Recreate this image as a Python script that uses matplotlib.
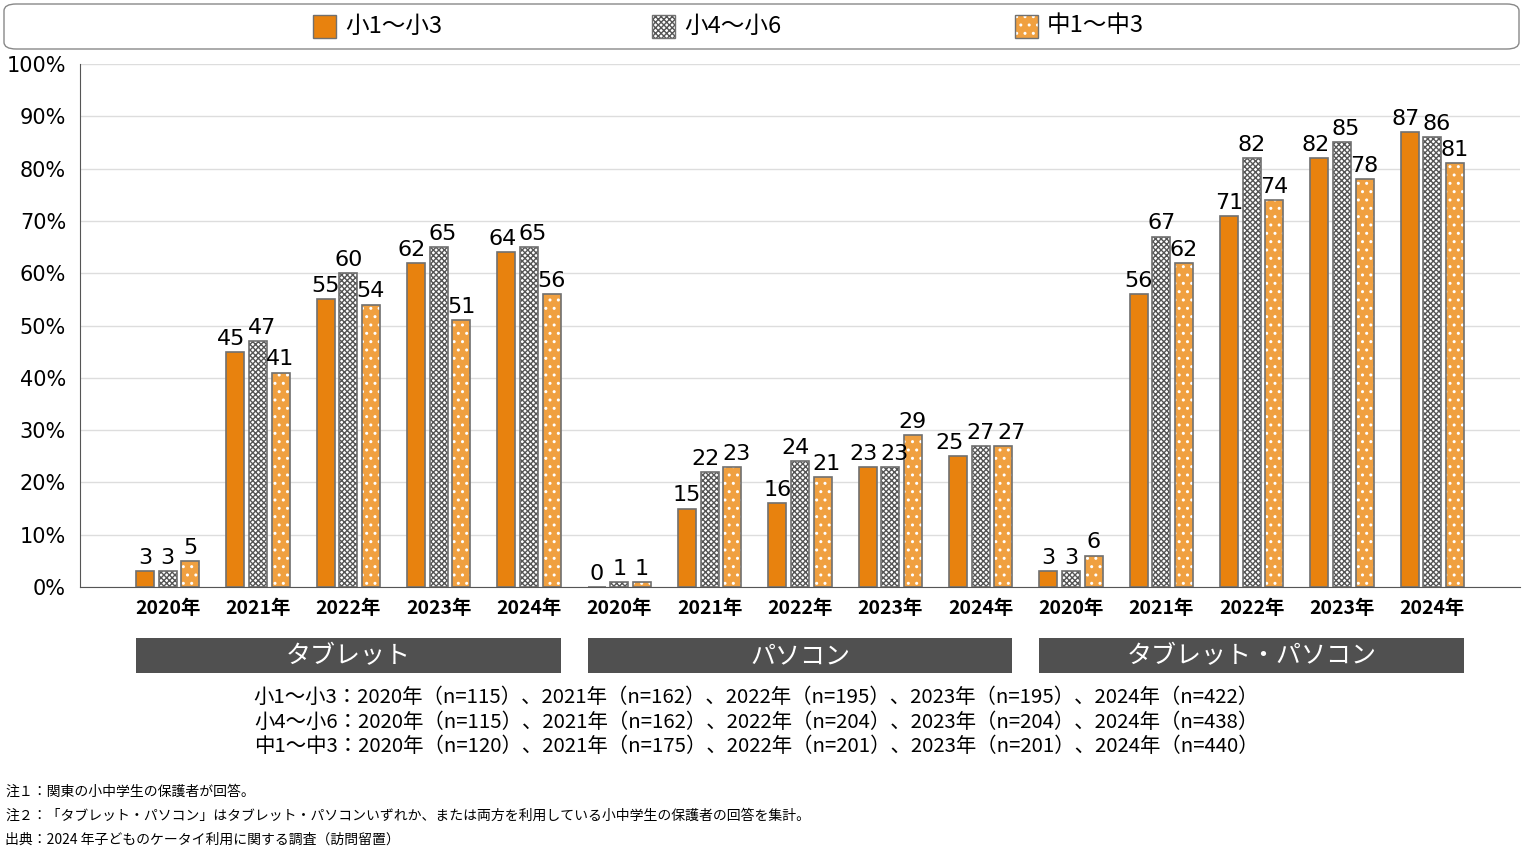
import matplotlib
matplotlib.use("Agg")
import matplotlib.pyplot as plt
from matplotlib.patches import Rectangle, FancyBboxPatch
from matplotlib.transforms import blended_transform_factory
import numpy as np

plt.rcParams['font.family'] = ['Noto Sans CJK JP', 'DejaVu Sans']

# data
groups = ["タブレット", "パソコン", "タブレット・パソコン"]
years = ["2020年", "2021年", "2022年", "2023年", "2024年"]
series_names = ["小1〜小3", "小4〜小6", "中1〜中3"]
low_grade = [3, 45, 55, 62, 64, 0, 15, 16, 23, 25, 3, 56, 71, 82, 87]
mid_grade = [3, 47, 60, 65, 65, 1, 22, 24, 23, 27, 3, 67, 82, 85, 86]
junior_high = [5, 41, 54, 51, 56, 1, 23, 21, 29, 27, 6, 62, 74, 78, 81]
sample_lines = [
    "小1〜小3：2020年（n=115）、2021年（n=162）、2022年（n=195）、2023年（n=195）、2024年（n=422）",
    "小4〜小6：2020年（n=115）、2021年（n=162）、2022年（n=204）、2023年（n=204）、2024年（n=438）",
    "中1〜中3：2020年（n=120）、2021年（n=175）、2022年（n=201）、2023年（n=201）、2024年（n=440）",
]
notes = [
    "注１：関東の小中学生の保護者が回答。",
    "注２：「タブレット・パソコン」はタブレット・パソコンいずれか、または両方を利用している小中学生の保護者の回答を集計。",
    "出典：2024 年子どものケータイ利用に関する調査（訪問留置）",
]

ORANGE = "#E8820E"
LIGHT_ORANGE = "#F0A040"
EDGE = "#707070"

W, H = 1524, 851
fig = plt.figure(figsize=(W / 100, H / 100), dpi=100)
ax = fig.add_axes([80 / W, 1 - 587 / H, 1440 / W, (587 - 64) / H])

x = np.arange(len(low_grade))
bw = 0.2
off = 0.25

styles = [
    dict(face=ORANGE, hatch=None, hcol=None),
    dict(face="white", hatch="xxxxxx", hcol="#555555"),
    dict(face=LIGHT_ORANGE, hatch="..", hcol="white"),
]
all_vals = [low_grade, mid_grade, junior_high]

for k, (vals, st) in enumerate(zip(all_vals, styles)):
    xs = x + (k - 1) * off
    if st["hatch"]:
        ax.bar(xs, vals, bw, color=st["face"], edgecolor=st["hcol"],
               hatch=st["hatch"], linewidth=0, zorder=2)
        ax.bar(xs, vals, bw, fill=False, edgecolor=EDGE, linewidth=1.2, zorder=3)
    else:
        ax.bar(xs, vals, bw, color=st["face"], edgecolor=EDGE, linewidth=1.2, zorder=3)

# value labels, spread sideways where neighbours would collide
digit_w = 0.17   # approx width of one digit in x units
label_h = 4.0    # approx height in %
for i in range(len(x)):
    vals = [s[i] for s in all_vals]
    pos = [x[i] + (k - 1) * off for k in range(3)]
    widths = [digit_w * len(str(v)) for v in vals]
    for _ in range(5):
        for k in range(2):
            need = (widths[k] + widths[k + 1]) / 2
            if abs(vals[k] - vals[k + 1]) < label_h and pos[k + 1] - pos[k] < need:
                push = (need - (pos[k + 1] - pos[k])) / 2
                pos[k] -= push
                pos[k + 1] += push
    for p, v in zip(pos, vals):
        ax.text(p, v + 0.6, str(v), ha="center", va="bottom", fontsize=16,
                family="DejaVu Sans", zorder=4)

ax.set_xlim(-0.97, 14.97)
ax.set_ylim(0, 100)
ax.set_yticks(range(0, 101, 10))
ax.set_yticklabels([f"{t}%" for t in range(0, 101, 10)], fontsize=15, family="DejaVu Sans")
ax.set_xticks(x)
ax.set_xticklabels(years * 3, fontsize=14, fontweight="bold")
ax.tick_params(axis="x", length=0, pad=9)
ax.tick_params(axis="y", length=0, pad=10)
ax.yaxis.grid(True, color="#DDDDDD", linewidth=1, zorder=0)
ax.set_axisbelow(True)
for s in ["top", "right"]:
    ax.spines[s].set_visible(False)
ax.spines["left"].set_color("#555555")
ax.spines["bottom"].set_color("#555555")

# group label boxes
trans = blended_transform_factory(ax.transData, fig.transFigure)
for g, name in enumerate(groups):
    left = g * 5 - 0.35
    right = g * 5 + 4 + 0.35
    ax.add_patch(Rectangle((left, 1 - 673 / H), right - left, 35 / H, transform=trans,
                           facecolor="#505050", edgecolor="none", clip_on=False))
    ax.text((left + right) / 2, 1 - 656 / H, name, transform=trans, ha="center",
            va="center", color="white", fontsize=18)

# legend box
fig.patches.append(FancyBboxPatch((4 / W, 1 - 49 / H), 1515 / W, 45 / H,
                                  boxstyle="round,pad=0,rounding_size=0.008",
                                  transform=fig.transFigure, facecolor="white",
                                  edgecolor="#888888", linewidth=1))
leg_x = [313, 652, 1015]
for k, (name, st) in enumerate(zip(series_names, styles)):
    x0 = leg_x[k]
    fig.patches.append(Rectangle((x0 / W, 1 - 38 / H), 23 / W, 23 / H, transform=fig.transFigure,
                                 facecolor=st["face"], edgecolor=st["hcol"] or EDGE,
                                 hatch=st["hatch"], linewidth=0))
    fig.patches.append(Rectangle((x0 / W, 1 - 38 / H), 23 / W, 23 / H, transform=fig.transFigure,
                                 fill=False, edgecolor=EDGE, linewidth=1))
    fig.text((x0 + 32) / W, 1 - 26 / H, name, ha="left", va="center", fontsize=17)

# sample sizes
for i, line in enumerate(sample_lines):
    fig.text(756 / W, 1 - (697 + 25 * i) / H, line, ha="center", va="center", fontsize=14.7)

# notes
for i, line in enumerate(notes):
    fig.text(5 / W, 1 - (792 + 24 * i) / H, line, ha="left", va="center", fontsize=10)

fig.savefig("out.png", dpi=100)
